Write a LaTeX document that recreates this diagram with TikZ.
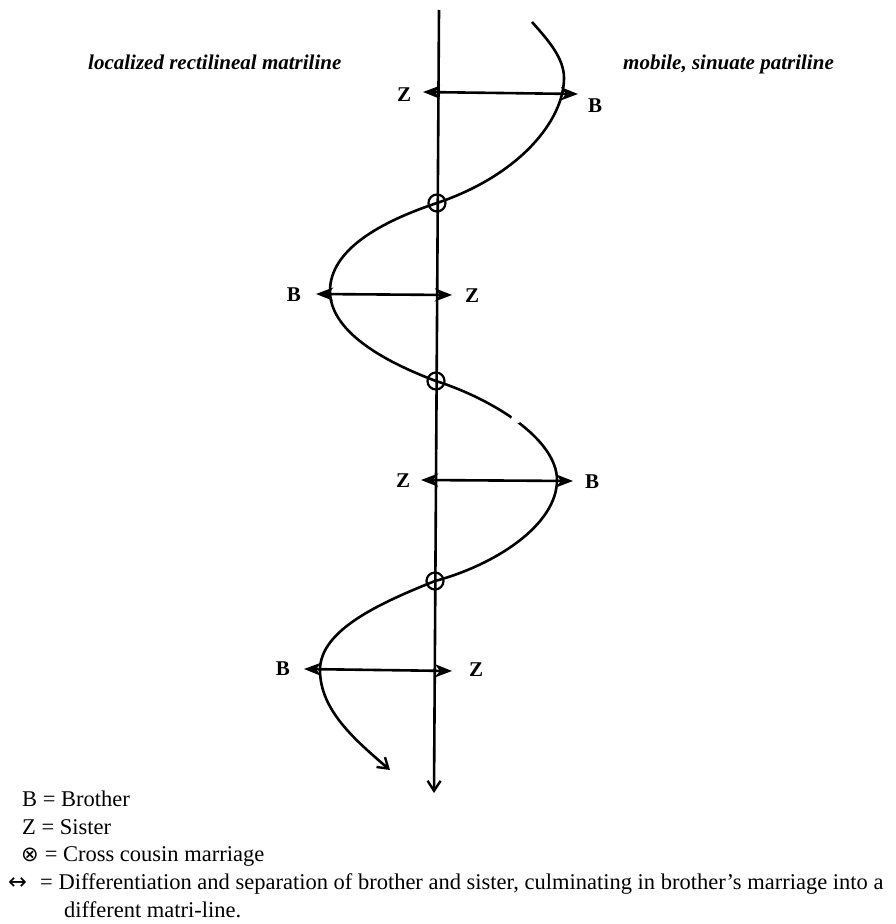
\documentclass[tikz,border=0pt]{standalone}
\usepackage{fontspec}
\setmainfont{Liberation Serif}
\newfontfamily\symfont{DejaVu Sans}
\usetikzlibrary{arrows.meta}
\begin{document}
\begin{tikzpicture}[x=1pt,y=-1pt,
  lbl/.style={font=\fontsize{21}{24}\selectfont\bfseries, inner sep=0pt},
  ttl/.style={font=\fontsize{21}{24}\selectfont\bfseries\itshape, inner sep=0pt, anchor=base west},
  leg/.style={font=\fontsize{22.5}{27}\selectfont, inner sep=0pt, anchor=base west},
  sep/.style={line width=2.6pt, {Stealth[length=17pt,width=13pt,inset=5pt]}-{Stealth[length=17pt,width=13pt,inset=5pt]}},
  ln/.style={line width=2.6pt},
  cc/.style={circle, draw, line width=2.2pt, minimum size=17pt, inner sep=0pt},
  barb/.style={-{Straight Barb[length=10pt,width=13pt,line width=2.4pt]}}
]
\useasboundingbox[fill=white] (0,0) rectangle (896,924);

% titles
\node[ttl] (tl) at (88,69) {localized rectilineal matriline};
\node[ttl] (tr) at (623,69) {mobile, sinuate patriline};

% vertical matriline
\coordinate (vt) at (439,10);
\coordinate (vb) at (434,793);
\draw[ln, barb] (vt) -- (vb);

% key points of the patriline
\coordinate (S)  at (532,22);
\coordinate (P1) at (564,78);
\coordinate (x1) at (437,203);
\coordinate (T1) at (330,291);
\coordinate (x2) at (436,381);
\coordinate (P2) at (557,480);
\coordinate (x3) at (435,581);
\coordinate (T2) at (320,670);
\coordinate (E)  at (390,770);

\draw[ln, barb] (S) .. controls (548,40) and (564,58) .. (P1)
  .. controls (564,120) and (520,175) .. (x1)
  .. controls (380,222) and (330,250) .. (T1)
  .. controls (330,330) and (380,360) .. (x2)
  .. controls (495,400) and (557,440) .. (P2)
  .. controls (557,525) and (495,565) .. (x3)
  .. controls (380,603) and (320,630) .. (T2)
  .. controls (320,710) and (355,740) .. (E);
% small break in the patriline
\fill[white] (516,419) circle (5pt);

% cross cousin marriages
\node[cc] (c1) at (x1) {};
\node[cc] (c2) at (x2) {};
\node[cc] (c3) at (x3) {};

% brother / sister separations
\coordinate (a1l) at (423,92);  \coordinate (a1r) at (578,94);
\coordinate (a2l) at (316,294); \coordinate (a2r) at (452,295);
\coordinate (a3l) at (421,480); \coordinate (a3r) at (573,481);
\coordinate (a4l) at (304,669); \coordinate (a4r) at (452,671);
\draw[sep] (a1l) -- (a1r);
\draw[sep] (a2l) -- (a2r);
\draw[sep] (a3l) -- (a3r);
\draw[sep] (a4l) -- (a4r);

\node[lbl] (z1) at (404,95) {Z};
\node[lbl] (b1) at (595,106) {B};
\node[lbl] (b2) at (294,295) {B};
\node[lbl] (z2) at (472,296) {Z};
\node[lbl] (z3) at (403,481) {Z};
\node[lbl] (b3) at (592,482) {B};
\node[lbl] (b4) at (283,669) {B};
\node[lbl] (z4) at (476,670) {Z};

% legend
\node[leg] (l1) at (22,806) {B = Brother};
\node[leg] (l2) at (22,834) {Z = Sister};
\node[leg] (l3s) at (21,861) {{\symfont\fontsize{21}{24}\selectfont ⊗}};
\node[leg] (l3) at (l3s.base east) {\ = Cross cousin marriage};
\node[leg] (l4s) at (8,889) {{\symfont ↔}};
\node[leg] (l4) at (40,889) {= Differentiation and separation of brother and sister, culminating in brother's marriage into a};
\node[leg] (l5) at (64,917) {different matri-line.};
\end{tikzpicture}
\end{document}
